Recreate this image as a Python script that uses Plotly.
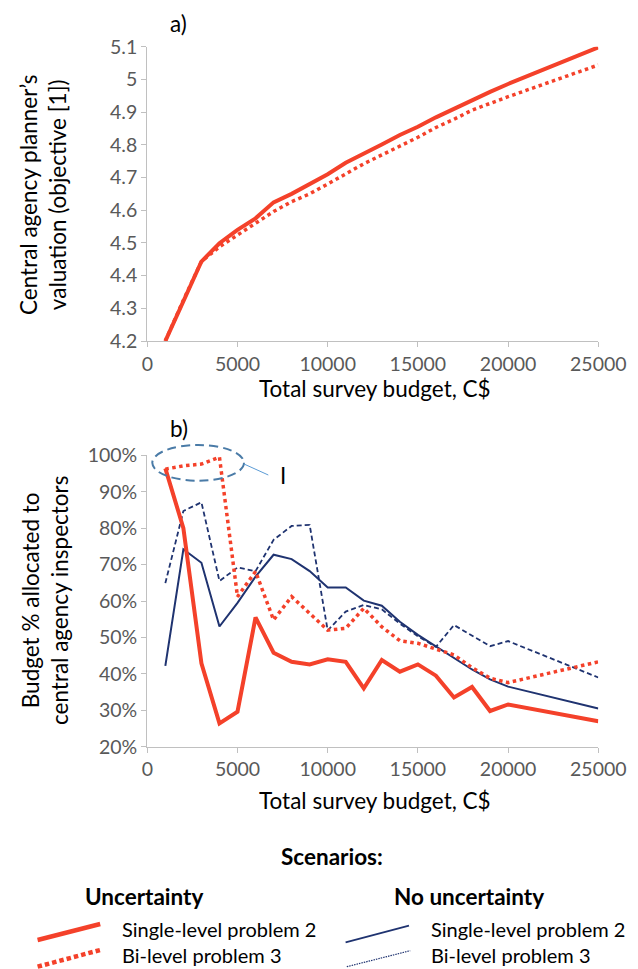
import plotly.graph_objects as go

# ---------------- data ----------------
budget = [1000, 2000, 3000, 4000, 5000, 6000, 7000, 8000, 9000, 10000,
          11000, 12000, 13000, 14000, 15000, 16000, 17000, 18000, 19000, 20000, 25000]

# a) Central agency planner's valuation (objective [1])
val_single_unc = [4.200, 4.325, 4.443, 4.499, 4.540, 4.575, 4.624, 4.650, 4.680, 4.710,
                  4.745, 4.772, 4.801, 4.830, 4.855, 4.884, 4.911, 4.937, 4.962, 4.986, 5.098]
val_bilevel_unc = [4.200, 4.325, 4.443, 4.488, 4.524, 4.560, 4.596, 4.626, 4.650, 4.680,
                   4.712, 4.742, 4.769, 4.796, 4.823, 4.853, 4.878, 4.906, 4.927, 4.947, 5.044]

# b) Budget share allocated to central agency inspectors
share_single_unc = [0.964, 0.800, 0.429, 0.264, 0.296, 0.555, 0.458, 0.433, 0.426, 0.440,
                    0.433, 0.360, 0.438, 0.406, 0.426, 0.395, 0.335, 0.364, 0.298, 0.316, 0.270]
share_bilevel_unc = [0.962, 0.971, 0.976, 0.995, 0.612, 0.681, 0.548, 0.612, 0.566, 0.520,
                     0.525, 0.580, 0.529, 0.491, 0.484, 0.468, 0.452, 0.417, 0.388, 0.376, 0.433]
share_single_nounc = [0.422, 0.742, 0.705, 0.530, 0.595, 0.667, 0.727, 0.715, 0.682, 0.637,
                      0.637, 0.601, 0.587, 0.543, 0.507, 0.475, 0.444, 0.412, 0.385, 0.365, 0.305]
share_bilevel_nounc = [0.649, 0.847, 0.871, 0.655, 0.692, 0.682, 0.768, 0.806, 0.809, 0.519,
                       0.571, 0.589, 0.577, 0.538, 0.503, 0.474, 0.534, 0.505, 0.476, 0.490, 0.390]

x_ticks = [0, 5000, 10000, 15000, 20000, 25000]
x_tick_text = ["0", "5000", "10000", "15000", "20000", "25000"]
val_ticks = [4.2, 4.3, 4.4, 4.5, 4.6, 4.7, 4.8, 4.9, 5.0, 5.1]
val_tick_text = ["4.2", "4.3", "4.4", "4.5", "4.6", "4.7", "4.8", "4.9", "5", "5.1"]
share_ticks = [0.2, 0.3, 0.4, 0.5, 0.6, 0.7, 0.8, 0.9, 1.0]
share_tick_text = ["20%", "30%", "40%", "50%", "60%", "70%", "80%", "90%", "100%"]

# ---------------- style ----------------
OFF = 8                      # page body margin
W, H = 638 - OFF, 969 - OFF
def px(x):
    return (x - OFF) / W
def py(y):
    return 1 - (y - OFF) / H

FONT = "Lato, 'Open Sans', sans-serif"
RED = "#F4412A"
NAVY = "#1F3370"
AXIS = "#C0C0C0"
TICK = "#595959"
ELL = "#4A7BA7"

fig = go.Figure()

# top chart
fig.add_trace(go.Scatter(x=budget, y=val_single_unc, mode="lines",
                         line=dict(color=RED, width=4), xaxis="x", yaxis="y"))
fig.add_trace(go.Scatter(x=budget, y=val_bilevel_unc, mode="lines",
                         line=dict(color=RED, width=3.5, dash="3.5px,3.5px"), xaxis="x", yaxis="y"))

# bottom chart
fig.add_trace(go.Scatter(x=budget, y=share_single_nounc, mode="lines",
                         line=dict(color=NAVY, width=2), xaxis="x2", yaxis="y2"))
fig.add_trace(go.Scatter(x=budget, y=share_bilevel_nounc, mode="lines",
                         line=dict(color=NAVY, width=1.8, dash="5px,3px"), xaxis="x2", yaxis="y2"))
fig.add_trace(go.Scatter(x=budget, y=share_bilevel_unc, mode="lines",
                         line=dict(color=RED, width=3.5, dash="3.5px,3.5px"), xaxis="x2", yaxis="y2"))
fig.add_trace(go.Scatter(x=budget, y=share_single_unc, mode="lines",
                         line=dict(color=RED, width=4), xaxis="x2", yaxis="y2"))

x_dom = [px(147.3), px(598.3)]
axis_common = dict(showline=True, linecolor=AXIS, linewidth=1.3, showgrid=False, zeroline=False,
                   ticks="outside", ticklen=5, tickcolor=AXIS, tickwidth=1.3, automargin=False,
                   tickfont=dict(family=FONT, size=19.5, color=TICK))

fig.update_layout(
    template="none",
    width=W, height=H, margin=dict(l=0, r=0, t=0, b=0, autoexpand=False),
    paper_bgcolor="white", plot_bgcolor="white", showlegend=False,
    xaxis=dict(domain=x_dom, anchor="y", range=[0, 25000], tickvals=x_ticks, ticktext=x_tick_text,
               **axis_common),
    yaxis=dict(domain=[py(341), py(46.7)], anchor="x", range=[4.2, 5.1],
               tickvals=val_ticks, ticktext=val_tick_text, **axis_common),
    xaxis2=dict(domain=x_dom, anchor="y2", range=[0, 25000], tickvals=x_ticks, ticktext=x_tick_text,
                **axis_common),
    yaxis2=dict(domain=[py(746.7), py(455.3)], anchor="x2", range=[0.2, 1.0],
                tickvals=share_ticks, ticktext=share_tick_text, **axis_common),
)

TXT = dict(family=FONT, size=22.5, color="black")
annotations = [
    dict(text="a)", x=px(178), y=py(23), font=TXT),
    dict(text="b)", x=px(179), y=py(428), font=TXT),
    dict(text="Total survey budget, C$", x=px(375), y=py(389), font=TXT),
    dict(text="Total survey budget, C$", x=px(375), y=py(800), font=TXT),
    dict(text="Central agency planner’s<br>valuation (objective [1])", x=px(43), y=py(195),
         textangle=-90, font=TXT),
    dict(text="Budget % allocated to<br>central agency inspectors", x=px(45), y=py(601),
         textangle=-90, font=TXT),
    dict(text="I", x=px(283), y=py(475), font=dict(family=FONT, size=22.5, color="black")),
    dict(text="<b>Scenarios:</b>", x=px(332), y=py(856), font=TXT),
    dict(text="<b>Uncertainty</b>", x=px(143.5), y=py(896), font=TXT),
    dict(text="<b>No uncertainty</b>", x=px(469), y=py(896), font=TXT),
]
LEG = dict(family=FONT, size=20, color="black")
for t, x, y in [("Single-level problem 2", 119.5, 929), ("Bi-level problem 3", 119.5, 955),
                ("Single-level problem 2", 429, 929), ("Bi-level problem 3", 429, 955)]:
    annotations.append(dict(text=t, x=px(x), y=py(y), xanchor="left", font=LEG))
for a in annotations:
    a.setdefault("xref", "paper")
    a.setdefault("yref", "paper")
    a.setdefault("showarrow", False)
    a.setdefault("xanchor", "center")
    a.setdefault("yanchor", "middle")
fig.update_layout(annotations=annotations)

shapes = [
    # highlight ellipse "I"
    dict(type="circle", xref="paper", yref="paper", x0=px(152.3), x1=px(244), y0=py(480.7), y1=py(445),
         line=dict(color=ELL, width=2, dash="9px,5px")),
    dict(type="line", xref="paper", yref="paper", x0=px(244), y0=py(464), x1=px(268.3), y1=py(475),
         line=dict(color="#5B9BD5", width=1)),
    # legend samples
    dict(type="line", xref="paper", yref="paper", x0=px(37.6), y0=py(940), x1=px(100.2), y1=py(924),
         line=dict(color=RED, width=4.5)),
    dict(type="line", xref="paper", yref="paper", x0=px(37.6), y0=py(966.7), x1=px(100.2), y1=py(950),
         line=dict(color=RED, width=4.5, dash="4.5px,3px")),
    dict(type="line", xref="paper", yref="paper", x0=px(345.6), y0=py(942.3), x1=px(409), y1=py(925.7),
         line=dict(color=NAVY, width=1.8)),
    dict(type="line", xref="paper", yref="paper", x0=px(346.8), y0=py(966.7), x1=px(410.2), y1=py(950.7),
         line=dict(color=NAVY, width=1.2, dash="1.5px,1px")),
]
fig.update_layout(shapes=shapes)

fig.write_html("out.html")
